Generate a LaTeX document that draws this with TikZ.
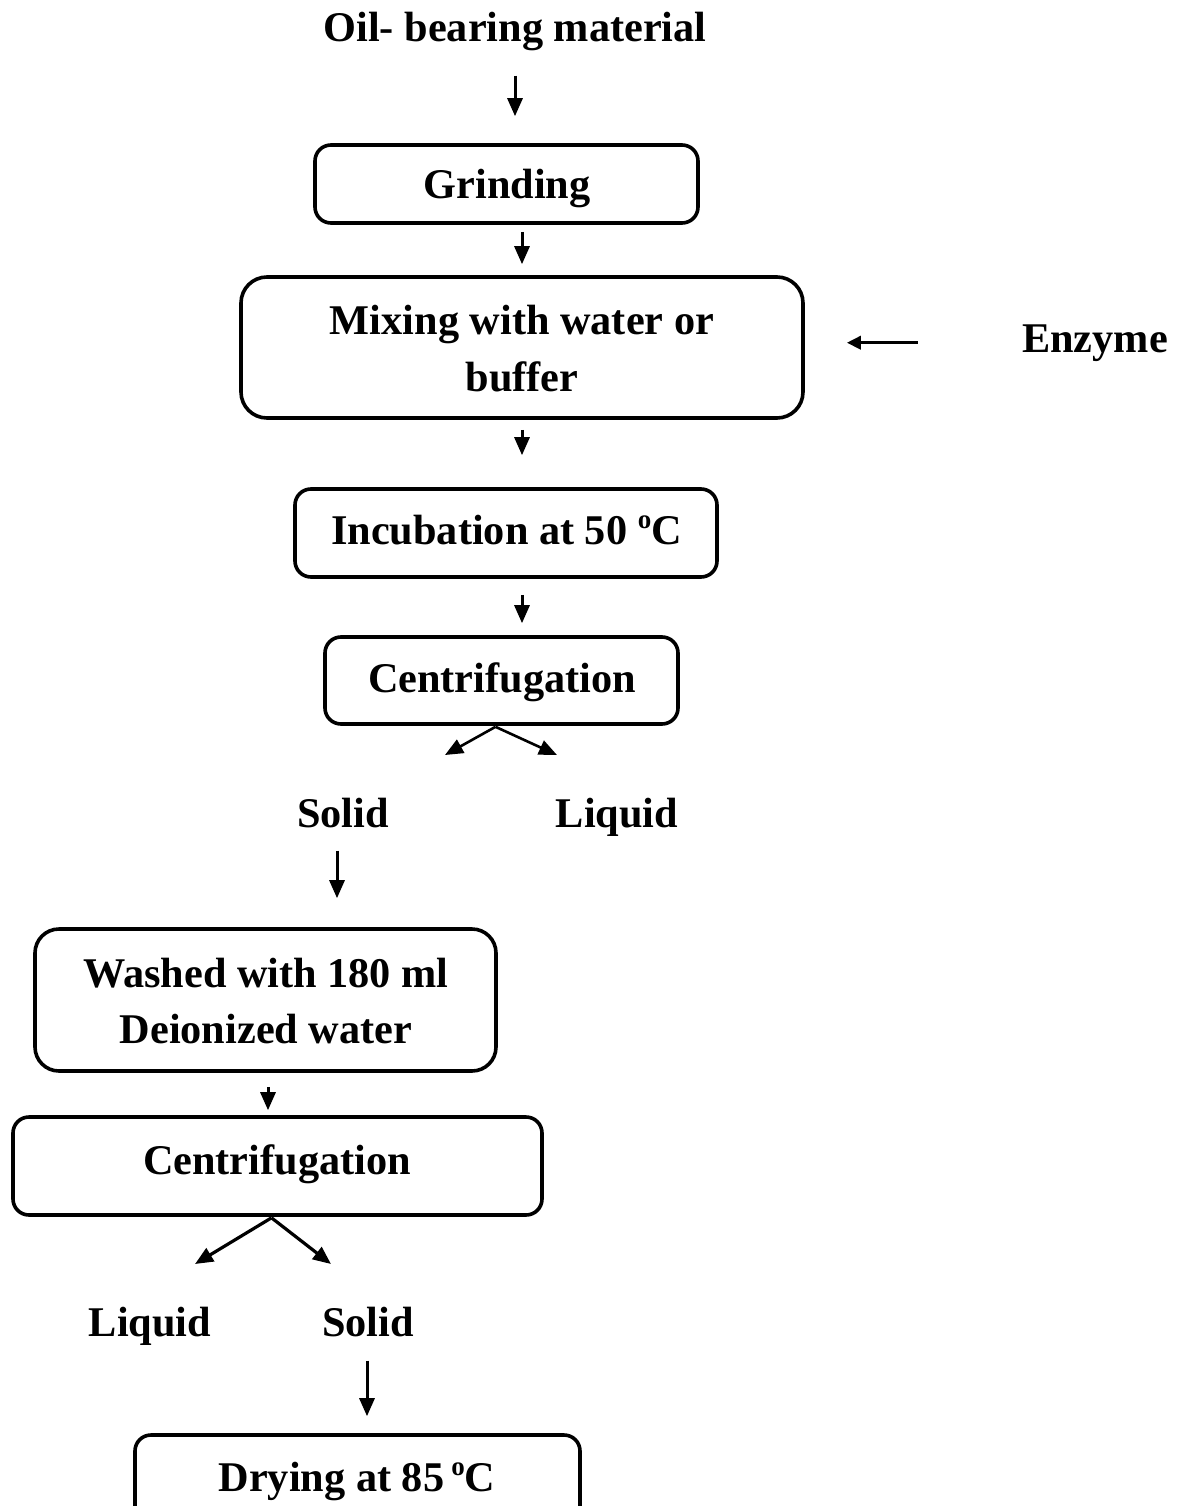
\documentclass[tikz,border=0pt]{standalone}
\usepackage{fontspec}
\setmainfont{Liberation Serif}
\usetikzlibrary{arrows.meta,calc}
\newcommand\degsup{\raisebox{0.36em}{\fontsize{27}{30}\bfseries\selectfont o}}
\begin{document}
\begin{tikzpicture}[x=1pt,y=-1pt,
  box/.style={draw,line width=3.6pt,rounded corners=16pt,inner sep=0pt},
  txt/.style={font=\fontsize{42.3}{48}\bfseries\selectfont,inner sep=0pt,anchor=base},
  arr/.style={line width=3pt,-{Triangle[length=18pt,width=15pt]}}]
\useasboundingbox (0,0) rectangle (1186,1506);
\clip (0,0) rectangle (1186,1506);
% boxes
\node[box,minimum width=383pt,minimum height=78pt] (grind) at (506.5,184) {};
\node[box,minimum width=562pt,minimum height=141pt,rounded corners=26pt] (mix) at (522,347.5) {};
\node[box,minimum width=422pt,minimum height=88pt] (inc) at (506,533) {};
\node[box,minimum width=353pt,minimum height=87pt] (cA) at (501.5,680.5) {};
\node[box,minimum width=461pt,minimum height=142pt,rounded corners=24pt] (wash) at (265.5,1000) {};
\node[box,minimum width=529pt,minimum height=98pt] (cB) at (277.5,1166) {};
\node[box,minimum width=445pt,minimum height=100pt] (dry) at (357.5,1485) {};
% texts
\node[txt] (oil) at (515,42) {Oil- bearing material};
\node[txt] (grindT) at (507,199) {Grinding};
\node[txt] (mixA) at (522,334) {Mixing with water or};
\node[txt] (mixB) at (522,391) {buffer};
\node[txt] (enz) at (1095,352) {Enzyme};
\node[txt] (incT) at (506.5,544) {Incubation at 50 \degsup C};
\node[txt] (cAT) at (502,692) {Centrifugation};
\node[txt] (solidA) at (343,827) {Solid};
\node[txt] (liquidA) at (617,827) {Liquid};
\node[txt] (washA) at (266,987) {Washed with 180 ml};
\node[txt] (washB) at (266,1043) {Deionized water};
\node[txt] (cBT) at (277,1174) {Centrifugation};
\node[txt] (liquidB) at (150,1336) {Liquid};
\node[txt] (solidB) at (368,1336) {Solid};
\node[txt] (dryT) at (357,1491) {Drying at 85\,\degsup C};
% split end points
\coordinate (tipAS) at (445,755);
\coordinate (tipAL) at (557,755);
\coordinate (tipBL) at (195,1264);
\coordinate (tipBS) at (331,1264);
% arrows
\draw[arr,shorten <=24pt,shorten >=27pt] (oil.south) -- (oil.south |- grind.north);
\draw[arr,shorten <=7pt,shorten >=11pt] (mix.north |- grind.south) -- (mix.north);
\draw[arr,shorten <=104pt,shorten >=42pt,line width=3.4pt,-{Triangle[length=14pt,width=13pt]}] (enz.west) -- (enz.west -| mix.east);
\draw[arr,shorten <=10pt,shorten >=32pt] (mix.south) -- (mix.south |- inc.north);
\draw[arr,shorten <=16pt,shorten >=12pt] (mix.south |- inc.south) -- (mix.south |- cA.north);
\draw[arr,line width=2.6pt] ($(cA.south)+(-6,1)$) -- (tipAS);
\draw[arr,line width=2.6pt] ($(cA.south)+(-6,1)$) -- (tipAL);
\draw[arr,shorten <=23pt,shorten >=29pt] ($(solidA.south)+(-6,0)$) -- ($(solidA.south |- wash.north)+(-6,0)$);
\draw[arr,shorten <=14pt,shorten >=5pt] ($(wash.south)+(2.5,0)$) -- ($(wash.south |- cB.north)+(2.5,0)$);
\draw[arr,line width=3.2pt] ($(cB.south)+(-6,1)$) -- (tipBL);
\draw[arr,line width=3.2pt] ($(cB.south)+(-6,1)$) -- (tipBS);
\draw[arr,shorten <=24pt,shorten >=17pt] ($(solidB.south)+(-1,0)$) -- ($(solidB.south |- dry.north)+(-1,0)$);
\end{tikzpicture}
\end{document}
